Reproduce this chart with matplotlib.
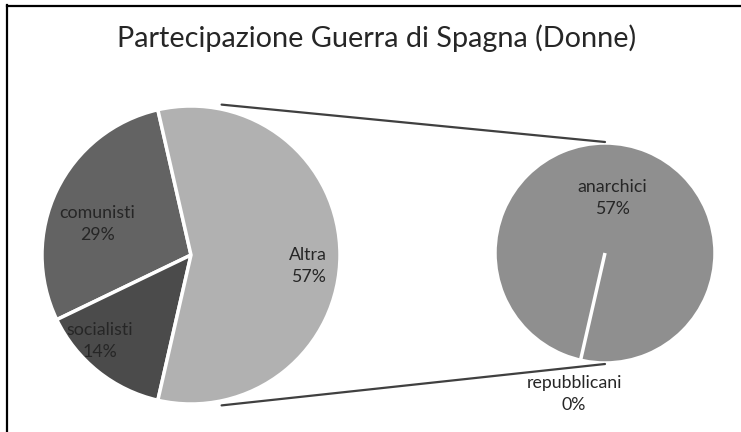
import matplotlib.pyplot as plt
from matplotlib.lines import Line2D
import numpy as np

# dati
titolo = "Partecipazione Guerra di Spagna (Donne)"
cat_principale = ["comunisti", "socialisti", "Altra"]
val_principale = [2, 1, 4]
cat_secondaria = ["anarchici", "repubblicani"]
val_secondaria = [4, 0]

col_principale = ["#636363", "#4b4b4b", "#b1b1b1"]
col_secondaria = ["#8f8f8f", "#8f8f8f"]

plt.rcParams['font.family'] = ['Lato', 'DejaVu Sans']

W, H = 741, 432
fig = plt.figure(figsize=(W / 100, H / 100), dpi=100)
ax = fig.add_axes([0, 0, 1, 1])

tot = sum(val_principale)
altra_deg = val_principale[-1] / tot * 360
c1, r1 = (191, H - 255), 149
c2, r2 = (605, H - 253), 110

ax.pie(val_principale, colors=col_principale, center=c1, radius=r1,
       startangle=altra_deg / 2, counterclock=True, frame=True,
       wedgeprops=dict(edgecolor="white", linewidth=2.5))
ax.pie(val_secondaria, colors=col_secondaria, center=c2, radius=r2,
       startangle=-altra_deg / 2, counterclock=True, frame=True,
       wedgeprops=dict(edgecolor="white", linewidth=2.5))

# linee di collegamento
for sgn in (1, -1):
    a = np.radians(sgn * 78.5)
    x0, y0 = c1[0] + 1.03 * r1 * np.cos(a), c1[1] + 1.03 * r1 * np.sin(a)
    x1, y1 = c2[0], c2[1] + sgn * (r2 + 1)
    ax.plot([x0, x1], [y0, y1], color="#404040", lw=1.6, solid_capstyle="round")

# etichette
def etichetta(nome, v, tot, x, y):
    ax.text(x, H - y, f"{nome}\n{v / tot * 100:.0f}%", ha="center", va="center",
            fontsize=12.8, color="#262626", linespacing=1.5)

pos_principale = [(97, 224), (100, 341), (308, 266)]
for n, v, p in zip(cat_principale, val_principale, pos_principale):
    etichetta(n, v, tot, *p)
pos_secondaria = [(612, 198), (574, 394)]
for n, v, p in zip(cat_secondaria, val_secondaria, pos_secondaria):
    etichetta(n, v, tot, *p)

ax.text(377, H - 38, titolo, ha="center", va="center", fontsize=20.8, color="#262626")

ax.set_xlim(0, W)
ax.set_ylim(0, H)
ax.set_aspect("equal")
ax.axis("off")

# bordo
fig.add_artist(Line2D([7 / W, 7 / W], [0, 1 - 5 / H], color="black", lw=1.6))
fig.add_artist(Line2D([7 / W, 1], [1 - 6 / H, 1 - 6 / H], color="black", lw=1.6))

fig.savefig("out.png", dpi=100, facecolor="white")
